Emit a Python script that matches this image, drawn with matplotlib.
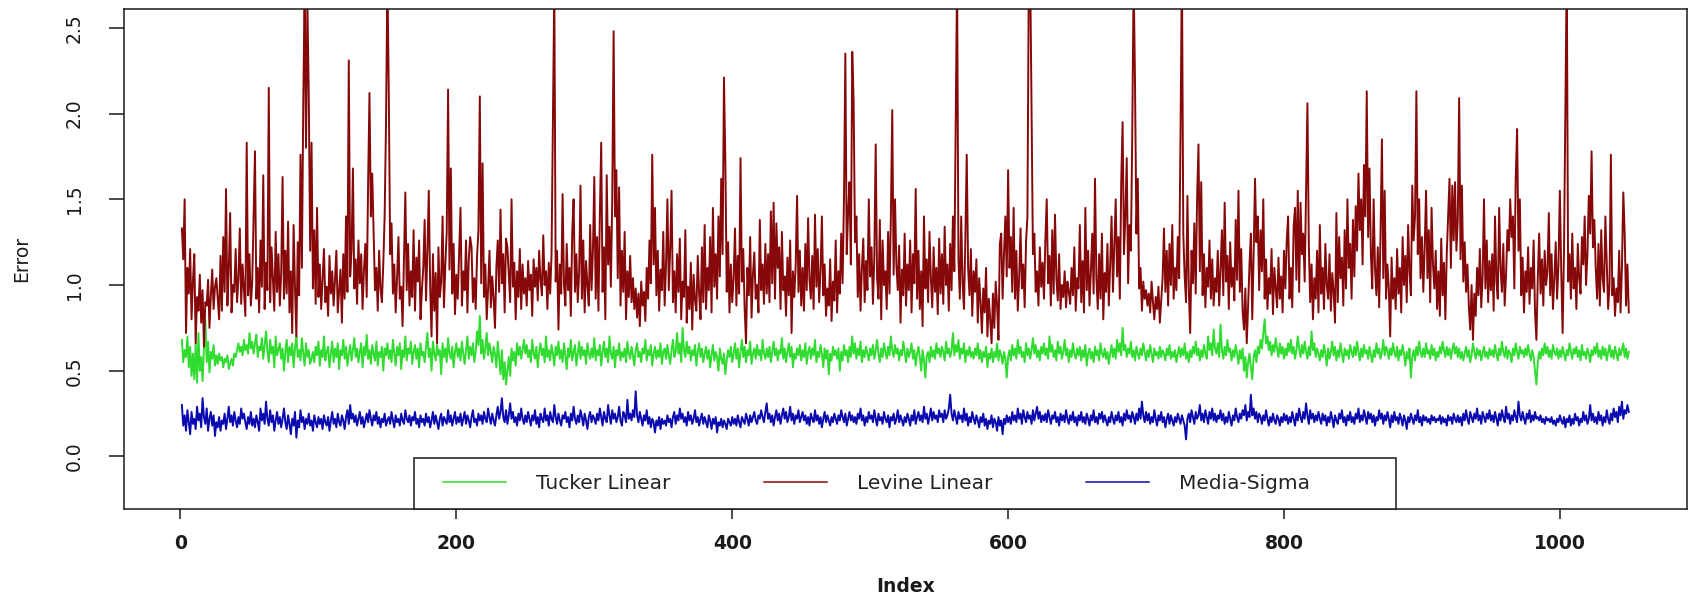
import numpy as np
import matplotlib
matplotlib.use("Agg")
import matplotlib.pyplot as plt
from matplotlib.patches import Rectangle

# ---------------- data (values in hundredths) ----------------
levine_pct = [
133,115,150,72,110,95,121,80,102,118,66,93,85,106,78,97,64,90,88,103,75,94,109,86,99,
104,92,80,117,85,128,96,156,88,109,142,84,100,96,121,90,104,133,89,112,97,82,183,94,118,
88,102,140,178,92,110,84,126,99,164,86,113,97,215,90,122,104,85,131,96,118,88,107,163,92,
120,95,137,84,108,72,135,99,70,125,94,176,110,205,275,180,265,210,120,183,98,132,89,145,93,
112,86,104,121,90,99,82,117,95,108,88,103,120,84,97,109,78,118,92,140,96,231,105,120,168,
98,115,89,126,101,118,86,109,124,93,158,212,140,165,132,97,110,85,120,98,90,112,140,195,280,
212,118,136,95,112,84,104,128,92,99,76,114,154,97,124,88,108,93,132,85,116,102,126,80,97,
110,138,91,120,155,99,70,118,85,107,66,122,93,102,140,87,112,131,214,109,168,95,124,83,106,
92,119,145,88,108,97,126,84,115,128,122,90,104,86,117,132,210,101,171,93,112,80,98,120,87,
105,92,75,110,126,96,144,101,118,84,127,122,106,90,150,99,113,80,108,93,121,86,112,95,104,
88,114,97,106,82,115,99,110,91,120,103,94,129,100,108,86,113,95,118,196,275,102,120,74,112,
95,153,101,88,124,97,110,82,131,150,96,118,90,107,158,92,126,84,114,100,88,135,97,120,163,
92,128,85,140,183,96,122,80,164,112,134,99,150,248,140,167,104,157,88,120,96,131,80,108,93,
117,90,104,86,98,81,95,76,102,88,96,79,110,92,126,101,176,112,145,94,120,85,109,97,131,
88,112,150,97,121,155,90,108,84,118,96,127,80,102,93,132,78,99,86,113,74,106,91,85,117,
95,80,122,90,135,86,110,97,128,84,145,99,118,92,140,105,162,118,221,172,96,125,84,112,90,
104,133,88,117,95,174,102,121,86,66,110,94,128,81,106,119,92,100,84,138,97,112,89,124,95,
118,90,143,101,148,92,136,110,122,86,131,97,105,82,116,94,126,72,108,93,112,152,96,120,88,
110,85,124,97,139,103,92,117,86,141,99,121,90,108,140,94,112,82,98,88,115,79,102,91,126,
84,108,95,130,101,150,235,118,142,160,112,236,207,125,140,93,118,85,110,127,90,114,97,150,105,
122,89,116,182,104,92,138,80,126,100,108,86,131,95,140,202,106,150,112,97,123,78,109,94,130,
88,112,97,126,84,118,101,156,92,120,86,108,76,140,98,115,90,131,104,87,122,96,110,83,127,
95,118,89,134,100,112,85,124,97,140,108,196,280,115,92,140,101,86,127,176,110,94,121,82,108,
96,115,78,104,90,72,98,84,110,70,92,80,66,95,75,102,88,68,124,130,92,118,140,105,167,
110,128,96,145,92,120,85,104,133,98,112,87,125,140,280,285,200,118,130,96,108,88,122,99,113,
92,126,150,101,117,88,132,95,141,104,91,118,86,100,93,108,87,102,96,89,110,94,122,85,104,
98,135,90,114,84,145,97,120,88,108,130,95,162,104,86,118,92,130,80,107,96,124,88,112,140,
96,122,150,105,128,92,160,195,118,140,174,101,135,120,188,280,218,130,162,98,110,85,102,92,97,
88,95,84,102,90,80,93,86,99,78,91,104,133,96,120,88,124,100,135,92,110,97,128,104,190,
285,130,105,90,152,98,72,120,101,136,95,150,182,108,160,94,118,87,110,99,126,92,115,88,104,
96,120,88,109,132,94,148,102,117,86,125,99,110,91,138,103,155,96,121,85,74,98,66,88,112,
130,80,118,162,125,140,97,132,108,150,92,115,86,104,95,121,83,110,98,87,116,92,105,84,120,
98,126,140,92,110,87,134,145,103,155,96,148,118,130,102,156,206,124,90,112,80,104,92,120,84,
135,95,110,86,124,100,92,118,85,107,96,78,142,90,128,104,116,88,132,98,150,110,124,92,138,
105,146,120,165,132,150,112,170,140,213,128,168,118,98,150,110,94,122,87,130,185,104,155,92,112,
98,70,116,92,104,86,121,95,110,84,128,100,117,90,135,108,94,158,126,140,213,118,150,104,128,
96,122,155,104,132,90,145,112,98,120,86,108,82,127,94,113,80,118,140,162,110,158,126,160,120,
138,209,115,158,102,125,96,112,88,74,100,68,95,82,110,94,121,87,105,150,98,126,90,114,97,
118,85,140,102,92,145,110,96,124,88,106,132,120,150,128,140,98,162,191,120,150,94,116,84,108,
96,122,89,110,98,126,84,68,104,130,95,115,88,120,100,108,142,94,118,86,104,125,92,112,155,
108,72,120,200,285,102,118,92,130,98,110,86,124,104,95,128,112,140,100,118,152,130,178,122,138,
110,92,124,88,132,104,96,140,112,86,100,176,94,104,82,98,90,120,84,110,154,130,88,112,84,
]

tucker_pct = [
68,55,62,58,70,52,64,47,60,45,66,43,72,50,58,44,63,80,55,67,49,61,57,65,53,
59,54,60,56,58,52,57,55,59,51,54,57,53,60,58,62,66,61,64,59,68,62,65,60,72,
63,67,60,66,71,58,64,62,69,57,65,73,61,55,68,60,64,52,70,59,62,66,57,63,50,
61,68,55,64,59,66,52,63,71,58,62,56,69,60,53,66,58,62,54,57,61,55,64,59,67,
53,62,58,70,56,61,64,52,60,67,55,63,58,66,51,62,59,68,57,64,53,60,65,56,62,
69,58,63,55,61,66,52,64,59,71,57,62,54,65,60,56,67,53,61,58,64,50,63,59,66,
57,62,55,68,60,53,64,59,66,51,62,58,70,56,63,60,67,54,61,65,57,63,52,66,59,
61,55,64,72,58,63,50,67,60,56,65,59,62,48,66,58,63,55,69,60,57,64,52,61,66,
58,63,56,67,60,54,62,70,57,64,59,66,55,61,73,65,82,60,68,57,63,72,59,66,61,
55,64,60,52,67,58,48,62,45,55,42,50,58,47,63,56,61,53,66,59,64,57,62,68,60,
65,58,62,55,68,60,57,64,52,61,66,59,63,55,70,58,62,56,65,60,53,64,59,67,57,
62,55,66,59,51,63,58,68,56,61,65,53,60,67,57,64,59,62,54,66,60,57,63,58,69,
56,62,59,65,53,61,67,58,63,55,70,60,57,64,52,62,59,66,56,61,58,63,55,67,60,
57,64,59,53,62,66,58,61,55,63,60,68,56,62,59,65,53,60,64,57,62,58,66,54,61,
63,57,65,59,54,62,68,58,61,72,60,66,55,75,62,58,67,60,64,56,62,59,65,53,61,
66,58,63,55,60,64,57,62,52,59,65,56,61,58,50,63,57,54,60,48,56,62,58,64,55,
60,66,57,63,52,61,68,58,64,55,62,59,67,54,60,63,57,65,59,62,56,68,60,57,63,
58,64,55,61,67,59,63,56,62,60,69,57,63,55,61,66,58,64,52,60,57,63,59,65,56,
62,58,66,54,61,64,57,63,59,68,55,61,58,65,60,52,63,57,62,48,60,56,64,59,62,
57,63,50,61,56,65,59,62,55,64,58,70,60,66,57,63,59,67,55,62,58,64,60,56,63,
59,65,57,62,68,60,55,63,58,66,61,57,64,59,70,62,58,65,60,63,56,62,59,67,61,
55,63,58,61,66,57,62,53,60,64,58,50,62,56,46,59,61,55,64,58,62,57,66,60,63,
58,64,61,56,67,60,63,58,62,72,59,65,61,68,57,63,60,66,55,62,59,64,58,61,57,
63,59,66,57,62,55,61,58,64,52,60,57,63,55,61,58,66,56,62,59,54,61,57,46,58,
62,56,65,59,63,57,68,60,64,58,61,55,66,59,63,57,62,69,60,65,58,62,56,64,60,
66,59,63,57,70,61,65,58,62,56,67,60,64,57,61,68,59,63,55,62,58,66,60,57,63,
59,64,56,62,58,65,53,60,63,57,61,55,64,59,62,56,66,60,58,63,57,61,54,60,65,
58,63,57,68,61,66,59,75,62,65,58,63,60,67,58,62,56,64,60,57,63,59,66,61,56,
62,58,65,60,55,63,59,61,57,64,58,62,60,56,63,59,65,57,61,58,62,55,60,64,58,
63,59,66,57,61,55,62,58,64,60,67,59,63,56,62,58,65,60,57,70,62,66,59,74,63,
60,66,58,77,62,57,64,59,68,61,63,56,62,58,65,60,54,62,57,63,50,58,46,55,60,
52,45,58,62,55,64,60,68,63,72,80,66,70,62,67,59,65,61,69,63,58,66,60,64,57,
63,59,66,61,68,60,64,57,62,70,63,58,65,60,67,61,57,64,59,73,62,66,58,63,60,
56,62,58,65,60,53,63,57,61,67,59,64,56,62,58,66,60,55,63,59,62,57,65,61,58,
64,59,67,61,56,63,58,65,60,62,57,64,59,55,62,58,66,60,63,57,61,68,59,64,62,
57,63,59,66,61,58,64,56,62,59,65,60,53,61,57,63,46,58,62,56,64,59,67,61,58,
63,58,66,60,62,57,65,59,63,56,61,58,64,60,67,62,58,64,59,63,57,62,66,60,64,
58,63,57,61,56,60,64,58,62,55,59,66,61,57,63,59,62,56,60,64,58,61,57,63,59,
62,58,65,60,56,63,59,67,61,58,64,57,62,60,55,63,59,66,61,57,64,60,62,58,63,
59,65,60,56,62,58,50,42,55,61,57,63,59,66,60,64,58,62,57,65,61,59,63,57,62,
58,64,60,56,62,59,66,61,57,63,60,64,58,62,56,65,59,61,57,63,60,55,62,59,64,
60,66,58,62,57,64,59,63,56,61,65,58,62,57,64,60,56,63,59,62,66,58,63,57,61,
]

media_pct = [
30,18,24,15,27,20,13,26,19,22,16,29,21,25,17,34,23,19,28,15,22,26,18,24,12,
20,17,23,15,21,19,25,16,22,29,20,24,18,26,21,17,23,19,28,22,25,20,16,23,19,
26,18,22,17,24,20,15,28,21,25,19,32,22,18,27,20,24,15,21,26,19,23,17,22,28,
20,16,24,19,13,22,18,26,11,21,17,27,20,23,16,22,19,25,18,21,15,24,20,17,23,
19,22,16,24,20,18,23,15,21,26,19,22,17,25,20,18,24,21,16,23,27,19,30,22,25,
20,24,18,22,26,19,23,17,21,25,20,27,22,18,24,21,26,19,23,17,22,20,25,18,21,
23,19,26,21,17,24,20,22,18,25,21,19,27,22,20,24,18,23,21,26,19,22,17,24,20,
22,18,25,20,23,17,21,26,19,24,20,16,22,25,18,23,21,19,27,20,24,18,22,26,19,
23,20,25,18,22,26,19,24,21,17,23,27,20,22,18,25,21,24,19,26,22,20,28,23,19,
25,21,18,24,29,22,26,34,23,20,27,19,24,31,22,26,20,23,18,25,21,28,22,19,24,
20,26,22,18,24,21,27,19,23,17,25,22,20,28,21,24,18,26,22,20,30,23,19,25,21,
18,24,22,26,20,23,17,25,21,29,22,19,24,20,27,23,18,25,21,16,23,26,20,24,22,
19,25,21,28,23,18,26,22,20,30,24,19,27,22,25,20,23,29,21,18,26,24,20,33,22,
25,21,27,23,38,24,20,26,22,18,24,21,27,19,23,17,22,20,14,21,18,23,16,22,19,
21,18,24,20,22,17,23,26,19,24,21,28,22,25,20,23,18,26,21,24,19,22,27,20,23,
18,22,25,19,23,20,17,24,21,16,22,19,23,14,20,18,22,17,21,19,16,22,20,18,23,
19,22,18,24,20,17,23,21,19,25,22,18,24,20,23,26,21,19,24,22,27,23,20,26,31,
22,25,20,24,18,23,27,21,25,19,24,28,22,26,20,23,29,21,25,19,24,22,27,20,23,
26,21,24,19,23,18,25,22,20,27,21,24,19,23,17,22,26,20,24,21,18,23,20,25,22,
19,24,21,27,23,20,25,18,22,26,21,24,20,23,19,25,22,28,21,24,18,23,20,26,22,
24,20,27,22,18,25,21,23,19,26,22,20,24,17,23,21,25,19,22,27,20,24,21,18,23,
20,25,22,18,24,21,27,19,23,26,21,24,20,29,22,25,19,23,28,21,26,22,24,20,27,
23,25,20,27,22,24,28,36,25,21,27,23,19,26,22,24,20,28,21,25,18,23,20,26,22,
19,24,21,17,23,20,25,18,22,16,21,19,24,17,22,20,15,23,18,21,13,22,19,24,20,
23,19,26,21,24,20,28,22,25,19,27,23,20,26,22,24,19,27,21,25,29,22,26,20,24,
21,25,20,27,23,19,24,22,26,20,23,18,25,21,24,20,27,22,19,24,21,26,20,23,18,
24,21,26,20,23,19,25,22,18,24,21,27,20,23,19,25,22,26,20,24,21,18,23,20,26,
22,19,24,21,26,20,23,18,25,21,27,22,24,20,26,23,19,25,21,28,22,32,24,20,26,
21,25,19,23,20,27,22,18,24,21,26,20,23,17,22,25,19,24,21,18,23,20,25,22,19,
24,21,18,10,22,25,20,27,23,19,26,22,24,30,21,25,20,27,23,19,26,22,28,21,25,
20,24,22,27,21,25,19,23,20,26,22,18,24,21,28,23,20,25,22,27,24,30,21,26,23,
36,24,28,22,26,20,25,23,19,24,21,27,22,18,23,20,25,21,19,24,22,18,23,20,25,
21,24,19,23,20,26,22,18,25,21,28,23,20,26,22,31,24,19,27,22,25,20,24,21,26,
22,19,25,21,24,18,23,20,26,22,17,24,21,19,25,22,27,20,23,18,24,21,26,20,23,
19,25,22,28,20,24,21,27,23,19,26,22,25,20,24,18,23,21,27,22,25,19,24,21,26,
22,17,24,20,26,21,23,19,25,22,18,24,21,16,23,20,25,22,19,24,21,27,20,23,18,
24,21,23,20,22,19,24,21,23,20,22,21,24,19,23,20,22,18,24,21,23,19,25,22,20,
24,20,23,18,25,21,27,22,19,26,23,20,25,22,28,21,24,19,26,23,20,25,22,27,21,
24,20,26,22,18,25,21,27,23,20,29,22,25,19,24,21,27,23,20,32,24,21,26,22,19,
25,22,27,20,24,21,26,22,23,21,24,20,22,19,23,21,22,20,23,19,21,18,22,20,24,
21,19,23,17,22,20,24,18,22,19,25,21,23,18,22,20,26,21,24,19,22,30,21,25,20,
23,19,26,21,24,18,23,20,27,22,19,25,21,28,23,26,20,29,24,32,22,27,25,30,26,
]

series_names = ["Tucker Linear", "Levine Linear", "Media-Sigma"]
x_ticks = [0, 200, 400, 600, 800, 1000]
y_ticks = [0.0, 0.5, 1.0, 1.5, 2.0, 2.5]
y_tick_labels = ["0.0", "0.5", "1.0", "1.5", "2.0", "2.5"]

tucker = np.array(tucker_pct) / 100.0
levine = np.array(levine_pct) / 100.0
media = np.array(media_pct) / 100.0

# ---------------- figure ----------------
W, H = 1688, 594
fig = plt.figure(figsize=(W / 100, H / 100), dpi=100)
ax_l, ax_r, ax_t, ax_b = 124.0, 1686.7, 9.3, 509.3
ax = fig.add_axes([ax_l / W, 1 - ax_b / H, (ax_r - ax_l) / W, (ax_b - ax_t) / H])

c_tucker = "#2fdc2f"
c_levine = "#860808"
c_media = "#0a0ab0"
lw = 1.4

l1, = ax.plot(np.arange(1, len(tucker) + 1), tucker, color=c_tucker, lw=lw, zorder=2)
l2, = ax.plot(np.arange(1, len(levine) + 1), levine, color=c_levine, lw=lw, zorder=2.2)
l3, = ax.plot(np.arange(1, len(media) + 1), media, color=c_media, lw=lw, zorder=2.1)

n = max(len(tucker), len(levine), len(media))
ext = 0.04 * (n - 1)
ax.set_xlim(1 - ext, n + ext)
ax.set_ylim(-0.308, 2.608)

ax.set_xticks(x_ticks)
ax.set_xticklabels([str(v) for v in x_ticks], fontsize=13.5, fontweight="bold", color="#1a1a1a")
ax.set_yticks(y_ticks)
ax.set_yticklabels(y_tick_labels, rotation=90, va="center", fontsize=13.5, color="#1a1a1a")

ax.tick_params(axis="x", length=7.2, width=1.1, pad=10.8, color="#1a1a1a")
ax.tick_params(axis="y", length=11, width=1.1, pad=18, color="#1a1a1a")
for s in ax.spines.values():
    s.set_linewidth(1.1)
    s.set_color("#1a1a1a")

ax.set_xlabel("Index", fontsize=13.5, fontweight="bold", color="#1a1a1a")
ax.xaxis.set_label_coords(0.5, -(577.0 - ax_b) / (ax_b - ax_t))
ax.set_ylabel("Error", fontsize=13.5, color="#1a1a1a")
ax.yaxis.set_label_coords((31.0 - ax_l) / (ax_r - ax_l), 0.5)

# legend box (R-style, sits on the bottom of the plot region)
aw = ax_r - ax_l
ah = ax_b - ax_t
box = Rectangle(((414 - ax_l) / aw, 0.0), (1396 - 414) / aw, (ax_b - 457.7) / ah,
                transform=ax.transAxes, facecolor="white", edgecolor="#1a1a1a",
                lw=1.1, zorder=4, clip_on=False)
ax.add_patch(box)
leg = ax.legend([l1, l2, l3], series_names, ncol=3, frameon=False,
                loc="center left",
                bbox_to_anchor=((443 - ax_l) / aw, (ax_b - 483.3) / ah),
                borderpad=0, borderaxespad=0, fontsize=14.5,
                handlelength=3.13, handletextpad=1.49, columnspacing=4.65)
leg.set_zorder(5)
for h in leg.get_lines():
    h.set_linewidth(1.1)
for t in leg.get_texts():
    t.set_color("#222222")

fig.savefig("out.png", dpi=100, facecolor="white")
